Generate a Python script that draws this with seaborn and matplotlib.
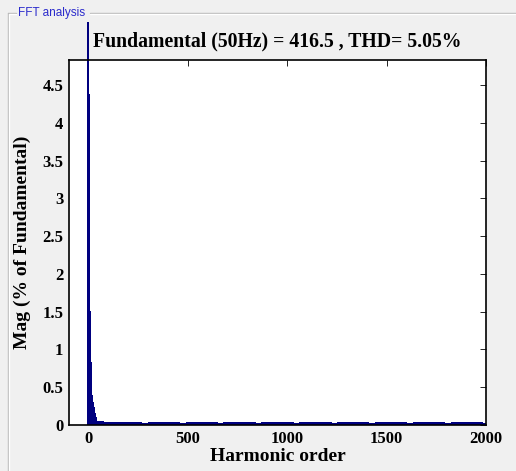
import pandas as pd
import matplotlib.pyplot as plt
import seaborn as sns
from matplotlib.lines import Line2D
from matplotlib.patches import Rectangle

OUT_PATH = "out.png"

# FFT result
FUNDAMENTAL_HZ  = 50
FUNDAMENTAL_MAG = 416.5
THD_PCT         = 5.05

# harmonic orders 0..40, % of fundamental
low_orders = list(range(0, 41))
low_mags = [
    0.20, 100.0, 0.62, 0.88, 0.55, 4.38, 0.74, 0.66, 1.51, 0.58,
    0.93, 0.51, 0.82, 0.47, 0.44, 0.40, 0.42, 0.39, 0.36, 0.35,
    0.33, 0.31, 0.29, 0.28, 0.27, 0.25, 0.24, 0.22, 0.21, 0.20,
    0.18, 0.16, 0.15, 0.13, 0.12, 0.11, 0.10, 0.09, 0.08, 0.07,
    0.06,
]

# flat noise floor further out
tail_first = [41, 116]
tail_last  = [115, 2000]
tail_mags  = [0.045, 0.02]

x_ticks = [0, 500, 1000, 1500, 2000]
y_ticks = [0, 0.5, 1, 1.5, 2, 2.5, 3, 3.5, 4, 4.5]

BAR_COLOR = "#00007f"
BG_COLOR  = "#f0f0f0"


def build_spectrum():
    orders = list(low_orders)
    mags   = list(low_mags)
    for first, last, mag in zip(tail_first, tail_last, tail_mags):
        for h in range(first, last + 1):
            orders.append(h)
            mags.append(mag)
    return pd.DataFrame({"order": orders, "mag": mags})


def plot(df):
    sns.set_style("white")
    plt.rcParams["font.family"] = ["Liberation Serif", "DejaVu Serif"]
    plt.rcParams["font.weight"] = "bold"
    plt.rcParams["text.color"] = "black"
    plt.rcParams["axes.labelcolor"] = "black"
    plt.rcParams["xtick.color"] = "black"
    plt.rcParams["ytick.color"] = "black"

    fig = plt.figure(figsize=(5.16, 4.71), dpi=100, facecolor=BG_COLOR)

    # etched panel frame with its title
    frame_kw = dict(transform=fig.transFigure, lw=1.0)
    fig.add_artist(Line2D([8 / 516, 8 / 516], [1 - 13 / 471, 0], color="#b9b9b9", **frame_kw))
    fig.add_artist(Line2D([9 / 516, 9 / 516], [1 - 14 / 471, 0], color="white", **frame_kw))
    fig.add_artist(Line2D([8 / 516, 16 / 516], [1 - 13 / 471] * 2, color="#b9b9b9", **frame_kw))
    fig.add_artist(Line2D([9 / 516, 16 / 516], [1 - 14 / 471] * 2, color="white", **frame_kw))
    fig.add_artist(Line2D([90 / 516, 1], [1 - 13 / 471] * 2, color="#b9b9b9", **frame_kw))
    fig.add_artist(Line2D([90 / 516, 1], [1 - 14 / 471] * 2, color="white", **frame_kw))
    fig.text(18 / 516, 1 - 13 / 471, "FFT analysis", family="Liberation Sans",
             weight="normal", fontsize=8.5, color="#2b2bcc", va="center", ha="left")

    ax = fig.add_axes([69 / 516, 1 - 425 / 471, 417 / 516, 365 / 471])
    ax.set_facecolor("white")

    sns.barplot(
        data=df, x="order", y="mag", native_scale=True, errorbar=None,
        color=BAR_COLOR, saturation=1, linewidth=1.2, edgecolor=BAR_COLOR, ax=ax,
    )

    # fundamental bar pokes out above the axes like in the FFT window
    clip = Rectangle((0, 0), 1, 1.104, transform=ax.transAxes)
    for p in ax.patches:
        p.set_clip_path(clip)
        p.set_antialiased(False)

    ax.set_xlim(-96, 2000)
    ax.set_ylim(0, 4.83)
    ax.set_xticks(x_ticks)
    ax.set_xticklabels([str(t) for t in x_ticks])
    ax.set_yticks(y_ticks)
    ax.set_yticklabels([f"{t:g}" for t in y_ticks])
    ax.tick_params(direction="in", length=4, width=0.6, labelsize=12,
                   top=True, right=True, pad=4, colors="black")

    for s in ax.spines.values():
        s.set_visible(True)
        s.set_color("black")
        s.set_linewidth(1.2)

    ax.set_xlabel("Harmonic order", fontsize=14, fontweight="bold", labelpad=1)
    ax.set_ylabel("Mag (% of Fundamental)", fontsize=14, fontweight="bold", labelpad=8)
    ax.set_title(
        f"Fundamental ({FUNDAMENTAL_HZ}Hz) = {FUNDAMENTAL_MAG} , THD= {THD_PCT:.2f}%",
        fontsize=14.2, fontweight="bold", pad=10, color="black",
    )

    fig.savefig(OUT_PATH, dpi=100, facecolor=BG_COLOR)
    plt.close(fig)


if __name__ == "__main__":
    spectrum = build_spectrum()
    plot(spectrum)
